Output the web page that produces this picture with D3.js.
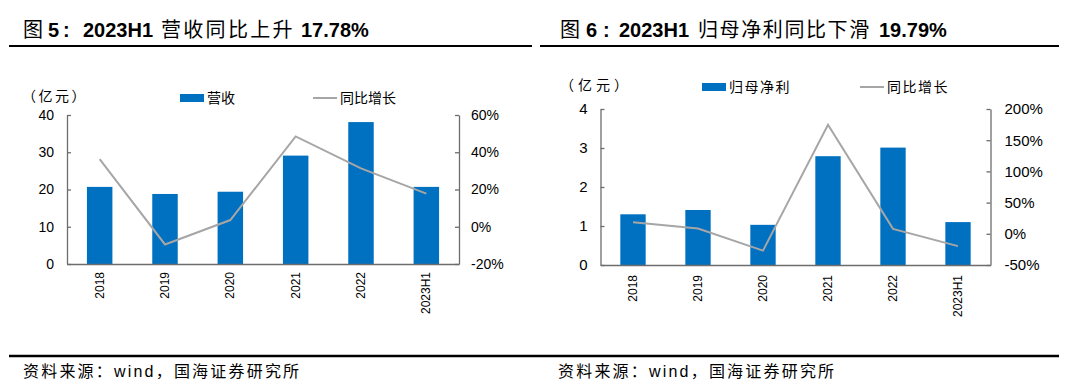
<!DOCTYPE html>
<html>
<head>
<meta charset="utf-8">
<script src="https://cdn.jsdelivr.net/npm/d3@7"></script>
<style>
  html, body { margin: 0; padding: 0; background: #fff; }
  svg { display: block; }
  text { font-family: "Liberation Sans", Arial, "Noto Sans CJK SC", sans-serif; }
</style>
</head>
<body>
<svg id="chart" width="1080" height="391"></svg>
<script>
// ---------- data ----------
const years = ["2018", "2019", "2020", "2021", "2022", "2023H1"];
const revenue = [20.7, 18.8, 19.4, 29.1, 38.1, 20.7];          // 营收 (亿元)
const revenueYoY = [36.3, -9.5, 3.6, 48.5, 31.3, 17.78];        // 同比增长 (%)
const netProfit = [1.30, 1.41, 1.03, 2.79, 3.01, 1.10];         // 归母净利 (亿元)
const netProfitYoY = [18.5, 8.4, -26.9, 174.7, 7.9, -19.79];    // 同比增长 (%)
const revTicks = [0, 10, 20, 30, 40];
const revYoYTicks = [-20, 0, 20, 40, 60];
const npTicks = [0, 1, 2, 3, 4];
const npYoYTicks = [-50, 0, 50, 100, 150, 200];
const titleParts = [
  ["图", "5", ":", "2023H1", "营收同比上升", "17.78%"],
  ["图", "6", ":", "2023H1", "归母净利同比下滑", "19.79%"]
];
const unitLabel = "（亿元）";
const barNames = ["营收", "归母净利"];
const lineName = "同比增长";
const sourceText = "资料来源：wind，国海证券研究所";

const BLUE = "#0070C0", GRAY = "#A6A6A6", AXIS = "#6d6d6d";
const CJK = "'Noto Sans CJK SC', sans-serif";
const LAT = "'Liberation Sans', Arial, sans-serif";
const svg = d3.select("#chart");

function panel(cfg) {
  const g = svg.append("g");
  const x = d3.scaleBand().domain(years).range([cfg.x0, cfg.x1])
    .paddingInner(0.61).paddingOuter(0.305);
  const yL = d3.scaleLinear().domain([cfg.leftTicks[0], cfg.leftTicks[cfg.leftTicks.length - 1]])
    .range([cfg.yBot, cfg.yTop]);
  const yR = d3.scaleLinear().domain([cfg.rightTicks[0], cfg.rightTicks[cfg.rightTicks.length - 1]])
    .range([cfg.yBot, cfg.yTop]);

  // title
  const t = g.append("text").attr("y", 37).attr("font-size", 20).attr("fill", "#000");
  cfg.title.forEach((s, i) => {
    const cjk = (i === 0 || i === 4);
    t.append("tspan").text(s).attr("x", cfg.titleXs[i])
      .attr("font-weight", cjk ? "normal" : "bold")
      .attr("letter-spacing", cjk ? cfg.titleLS : 0)
      .attr("font-family", cjk ? CJK : LAT);
  });
  g.append("line").attr("x1", cfg.lineX0).attr("x2", cfg.lineX1)
    .attr("y1", 46).attr("y2", 46).attr("stroke", "#000").attr("stroke-width", 2);

  // bars
  g.selectAll("rect.bar").data(cfg.bars).join("rect").attr("class", "bar")
    .attr("x", (d, i) => x(years[i]))
    .attr("width", x.bandwidth())
    .attr("y", d => yL(d))
    .attr("height", d => yL(0) - yL(d))
    .attr("fill", BLUE);

  // line
  const line = d3.line().x((d, i) => x(years[i]) + x.bandwidth() / 2).y(d => yR(d));
  g.append("path").datum(cfg.yoy).attr("d", line)
    .attr("fill", "none").attr("stroke", GRAY).attr("stroke-width", 2);

  // axes
  const axL = d3.axisLeft(yL).tickValues(cfg.leftTicks).tickSizeInner(-4).tickSizeOuter(0).tickPadding(13)
    .tickFormat(d3.format("d"));
  const gL = g.append("g").attr("transform", `translate(${cfg.x0},0)`).call(axL);
  const axR = d3.axisRight(yR).tickValues(cfg.rightTicks).tickSizeInner(-4).tickSizeOuter(0).tickPadding(cfg.rPad)
    .tickFormat(d => d + "%");
  const gR = g.append("g").attr("transform", `translate(${cfg.x1},0)`).call(axR);
  const axB = d3.axisBottom(x).tickSize(0).tickFormat("");
  const gB = g.append("g").attr("transform", `translate(0,${cfg.yBot})`).call(axB);
  [gL, gR, gB].forEach(a => {
    a.select(".domain").attr("stroke", AXIS).attr("stroke-width", 1.3);
    a.selectAll(".tick line").attr("stroke", AXIS).attr("stroke-width", 1.3);
    a.selectAll(".tick text").attr("font-size", cfg.tickFs).attr("fill", "#000")
      .attr("font-family", LAT);
  });
  // category labels rotated
  g.selectAll("text.xl").data(years).join("text").attr("class", "xl")
    .attr("transform", d => `translate(${x(d) + x.bandwidth() / 2 + 4},${cfg.yBot + cfg.xlabGap}) rotate(-90)`)
    .attr("text-anchor", "end").attr("font-size", 12).attr("fill", "#000")
    .attr("font-family", LAT)
    .text(d => d);

  // unit
  g.append("text").attr("x", cfg.unitX).attr("y", cfg.unitY + 5)
    .attr("font-size", 14).attr("fill", "#000").attr("letter-spacing", cfg.unitLS)
    .attr("font-family", CJK).text(unitLabel);

  // legend
  g.append("rect").attr("x", cfg.legBarX).attr("y", cfg.legY - 4).attr("width", 24).attr("height", 8).attr("fill", BLUE);
  g.append("text").attr("x", cfg.legBarX + 27).attr("y", cfg.legY + 5).attr("font-size", 14)
    .attr("letter-spacing", cfg.legLS)
    .attr("font-family", CJK).text(cfg.barName);
  g.append("line").attr("x1", cfg.legLineX).attr("x2", cfg.legLineX + 24)
    .attr("y1", cfg.legY).attr("y2", cfg.legY).attr("stroke", GRAY).attr("stroke-width", 2);
  g.append("text").attr("x", cfg.legLineX + 27).attr("y", cfg.legY + 5).attr("font-size", 14)
    .attr("letter-spacing", cfg.legLS)
    .attr("font-family", CJK).text(lineName);

  // source
  g.append("text").attr("x", cfg.srcX).attr("y", 377).attr("font-size", 16)
    .attr("letter-spacing", 2.2)
    .attr("font-family", "'Liberation Sans', 'Noto Sans CJK SC', sans-serif").text(sourceText);
}

panel({
  title: titleParts[0], titleXs: [23, 48, 63, 83, 161, 301], titleLS: 2.3,
  lineX0: 9, lineX1: 532, srcX: 23,
  x0: 67, x1: 459, yTop: 115, yBot: 264, xlabGap: 8, tickFs: 14, rPad: 12,
  bars: revenue, yoy: revenueYoY, leftTicks: revTicks, rightTicks: revYoYTicks,
  unitX: 22, unitY: 96, unitLS: 2.5, legY: 98, legBarX: 180, legLineX: 313, legLS: 0, barName: barNames[0]
});
panel({
  title: titleParts[1], titleXs: [560, 586, 603, 619, 698, 879], titleLS: 1.6,
  lineX0: 540, lineX1: 1059, srcX: 558,
  x0: 600.5, x1: 990.5, yTop: 109, yBot: 265, xlabGap: 10, tickFs: 15, rPad: 14,
  bars: netProfit, yoy: netProfitYoY, leftTicks: npTicks, rightTicks: npYoYTicks,
  unitX: 560, unitY: 85, unitLS: 4, legY: 87, legBarX: 702, legLineX: 860, legLS: 1.5, barName: barNames[1]
});

// bottom rule
svg.append("line").attr("x1", 9).attr("x2", 1059).attr("y1", 356).attr("y2", 356)
  .attr("stroke", "#000").attr("stroke-width", 2.5);
</script>
</body>
</html>
